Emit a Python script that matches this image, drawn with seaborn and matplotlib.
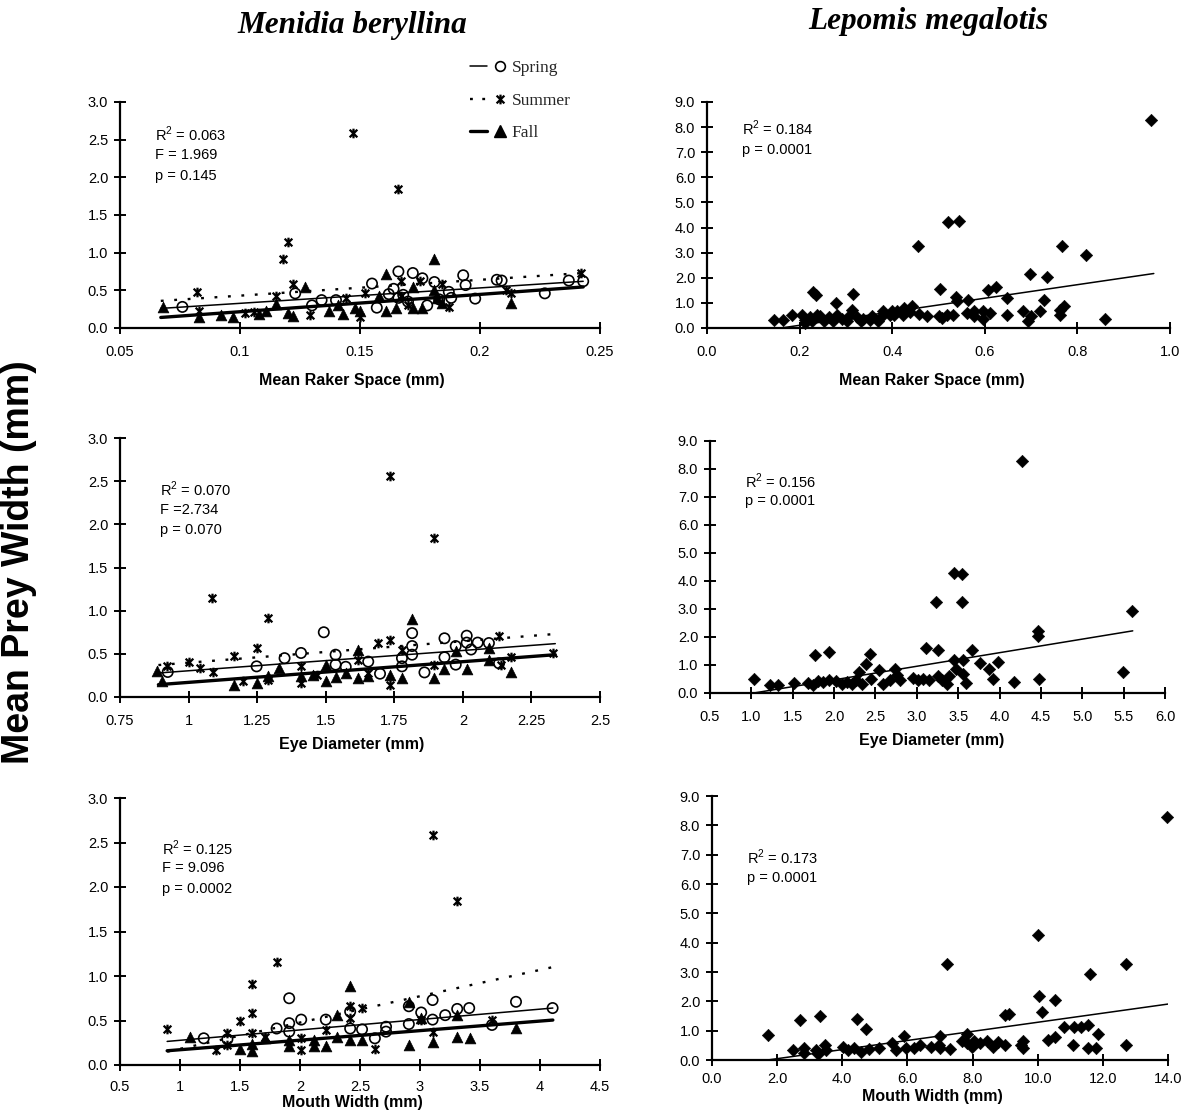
import numpy as np
import matplotlib
matplotlib.use("Agg")
import matplotlib.pyplot as plt
from matplotlib.path import Path
from matplotlib.lines import Line2D
from matplotlib.legend_handler import HandlerTuple
import seaborn as sns

# ---------------- data ----------------
# Menidia beryllina - Mean Raker Space
A_spring_x = [0.076, 0.123, 0.130, 0.134, 0.140, 0.155, 0.157, 0.162, 0.164, 0.166, 0.166, 0.168, 0.170, 0.172,
              0.176, 0.178, 0.181, 0.183, 0.187, 0.188, 0.193, 0.194, 0.198, 0.207, 0.209, 0.227, 0.237, 0.243]
A_spring_y = [0.28, 0.46, 0.30, 0.37, 0.37, 0.59, 0.27, 0.45, 0.52, 0.75, 0.40, 0.44, 0.35, 0.73,
              0.66, 0.30, 0.61, 0.38, 0.48, 0.40, 0.70, 0.57, 0.39, 0.64, 0.63, 0.46, 0.63, 0.62]
A_summer_x = [0.082, 0.083, 0.102, 0.106, 0.115, 0.118, 0.120, 0.122, 0.129, 0.144, 0.147, 0.150, 0.152,
              0.166, 0.167, 0.167, 0.170, 0.175, 0.184, 0.187, 0.211, 0.213, 0.242]
A_summer_y = [0.48, 0.22, 0.20, 0.21, 0.43, 0.92, 1.14, 0.59, 0.17, 0.40, 2.59, 0.15, 0.46,
              1.85, 0.62, 0.42, 0.30, 0.63, 0.58, 0.28, 0.51, 0.46, 0.73]
A_fall_x = [0.068, 0.083, 0.092, 0.097, 0.108, 0.111, 0.115, 0.120, 0.122, 0.127, 0.137, 0.141, 0.143, 0.148,
            0.150, 0.158, 0.161, 0.161, 0.165, 0.172, 0.172, 0.176, 0.181, 0.181, 0.182, 0.184, 0.213]
A_fall_y = [0.28, 0.14, 0.17, 0.15, 0.18, 0.22, 0.32, 0.20, 0.16, 0.55, 0.22, 0.30, 0.19, 0.27,
            0.22, 0.42, 0.72, 0.22, 0.27, 0.55, 0.27, 0.27, 0.92, 0.50, 0.40, 0.33, 0.33]
A_fit_x = [0.067, 0.243]
A_fit_spring = [0.26, 0.62]
A_fit_summer = [0.36, 0.73]
A_fit_fall = [0.14, 0.545]

# Menidia beryllina - Eye Diameter
B_spring_x = [0.924, 1.248, 1.35, 1.41, 1.493, 1.536, 1.536, 1.573, 1.655, 1.698, 1.778, 1.778, 1.815,
              1.815, 1.815, 1.86, 1.933, 1.933, 1.974, 1.974, 2.014, 2.014, 2.03, 2.054, 2.095, 2.132]
B_spring_y = [0.29, 0.355, 0.45, 0.51, 0.75, 0.49, 0.375, 0.35, 0.41, 0.27, 0.45, 0.355, 0.74,
              0.59, 0.49, 0.285, 0.68, 0.46, 0.59, 0.375, 0.71, 0.63, 0.55, 0.63, 0.625, 0.39]
B_summer_x = [0.92, 1.0, 1.043, 1.086, 1.09, 1.164, 1.20, 1.248, 1.29, 1.29, 1.41, 1.41, 1.468,
              1.617, 1.655, 1.69, 1.735, 1.735, 1.735, 1.778, 1.896, 1.896, 2.132, 2.14, 2.175, 2.33]
B_summer_y = [0.36, 0.405, 0.34, 1.15, 0.29, 0.48, 0.18, 0.57, 0.915, 0.20, 0.16, 0.36, 0.26,
              0.43, 0.28, 0.63, 2.56, 0.66, 0.14, 0.55, 1.84, 0.37, 0.71, 0.37, 0.46, 0.51]
B_fall_x = [0.885, 0.903, 1.166, 1.248, 1.29, 1.33, 1.41, 1.455, 1.50, 1.50, 1.536, 1.573, 1.617,
            1.617, 1.655, 1.735, 1.778, 1.815, 1.896, 1.933, 1.974, 2.014, 2.095, 2.095, 2.175]
B_fall_y = [0.30, 0.18, 0.14, 0.16, 0.24, 0.34, 0.24, 0.26, 0.375, 0.18, 0.23, 0.28, 0.55,
            0.22, 0.24, 0.26, 0.22, 0.90, 0.22, 0.32, 0.53, 0.32, 0.43, 0.57, 0.285]
B_fit_x = [0.89, 2.337]
B_fit_spring = [0.278, 0.618]
B_fit_summer = [0.37, 0.73]
B_fit_fall = [0.143, 0.49]

# Menidia beryllina - Mouth Width
C_spring_x = [1.198, 1.395, 1.805, 1.91, 1.91, 1.91, 2.01, 2.215, 2.418, 2.418, 2.517, 2.624, 2.717,
              2.717, 2.907, 2.907, 3.01, 3.105, 3.105, 3.21, 3.31, 3.41, 3.60, 3.80, 4.105]
C_spring_y = [0.30, 0.29, 0.41, 0.75, 0.47, 0.375, 0.51, 0.51, 0.60, 0.41, 0.40, 0.30, 0.43,
              0.375, 0.66, 0.46, 0.59, 0.51, 0.73, 0.56, 0.63, 0.64, 0.45, 0.71, 0.64]
C_summer_x = [0.893, 1.297, 1.395, 1.395, 1.50, 1.60, 1.60, 1.60, 1.706, 1.805, 2.01, 2.01, 2.215,
              2.418, 2.418, 2.517, 2.624, 3.01, 3.105, 3.105, 3.31, 3.60]
C_summer_y = [0.41, 0.17, 0.36, 0.225, 0.50, 0.91, 0.58, 0.36, 0.32, 1.16, 0.30, 0.17, 0.39,
              0.66, 0.525, 0.64, 0.18, 0.51, 2.58, 0.375, 1.84, 0.51]
C_fall_x = [1.085, 1.50, 1.60, 1.60, 1.706, 1.91, 1.91, 2.115, 2.115, 2.215, 2.31, 2.31, 2.418,
            2.418, 2.517, 2.907, 2.907, 3.01, 3.105, 3.31, 3.31, 3.415, 3.80]
C_fall_y = [0.31, 0.18, 0.16, 0.24, 0.30, 0.21, 0.28, 0.21, 0.28, 0.21, 0.56, 0.32, 0.89,
            0.28, 0.28, 0.71, 0.225, 0.525, 0.26, 0.56, 0.32, 0.30, 0.42]
C_fit_x = [0.893, 4.107]
C_fit_spring = [0.265, 0.64]
C_fit_summer = [0.15, 1.10]
C_fit_fall = [0.16, 0.505]

# Lepomis megalotis - Mean Raker Space
D_x = [0.145, 0.165, 0.183, 0.205, 0.212, 0.212, 0.223, 0.227, 0.23, 0.236, 0.237, 0.245, 0.252, 0.263, 0.273,
       0.278, 0.281, 0.291, 0.302, 0.306, 0.313, 0.315, 0.324, 0.332, 0.338, 0.353, 0.356, 0.37, 0.381, 0.381,
       0.396, 0.40, 0.403, 0.41, 0.424, 0.426, 0.439, 0.442, 0.455, 0.457, 0.475, 0.50, 0.504, 0.507, 0.518,
       0.52, 0.532, 0.538, 0.54, 0.545, 0.561, 0.563, 0.576, 0.576, 0.597, 0.597, 0.606, 0.612, 0.624, 0.649,
       0.649, 0.683, 0.694, 0.698, 0.699, 0.719, 0.727, 0.735, 0.763, 0.763, 0.766, 0.771, 0.818, 0.86, 0.959]
D_y = [0.30, 0.30, 0.53, 0.53, 0.33, 0.20, 0.42, 0.26, 1.43, 1.32, 0.53, 0.46, 0.29, 0.42, 0.26,
       1.0, 0.53, 0.37, 0.26, 0.46, 0.73, 1.36, 0.42, 0.26, 0.37, 0.33, 0.46, 0.26, 0.5, 0.66,
       0.53, 0.69, 0.53, 0.69, 0.5, 0.79, 0.64, 0.89, 3.25, 0.57, 0.46, 0.46, 1.56, 0.40, 0.5,
       4.24, 0.53, 1.22, 1.06, 4.26, 0.6, 1.13, 0.69, 0.46, 0.66, 0.37, 1.52, 0.60, 1.63, 1.19,
       0.50, 0.66, 0.29, 2.16, 0.49, 0.69, 1.10, 2.03, 0.70, 0.50, 3.25, 0.86, 2.91, 0.37, 8.30]
D_fit_x = [0.16, 0.965]
D_fit_y = [0.0, 2.17]

# Lepomis megalotis - Eye Diameter
E_x = [1.026, 1.22, 1.32, 1.52, 1.69, 1.74, 1.77, 1.81, 1.87, 1.935, 1.935, 2.02, 2.10, 2.16, 2.22,
       2.26, 2.30, 2.34, 2.38, 2.44, 2.45, 2.54, 2.59, 2.68, 2.74, 2.76, 2.80, 2.95, 3.01, 3.07,
       3.11, 3.15, 3.23, 3.25, 3.25, 3.31, 3.36, 3.39, 3.45, 3.45, 3.47, 3.55, 3.55, 3.56, 3.56,
       3.59, 3.67, 3.76, 3.87, 3.92, 3.98, 4.18, 4.27, 4.47, 4.47, 4.48, 5.49, 5.60]
E_y = [0.51, 0.27, 0.27, 0.37, 0.36, 0.27, 1.35, 0.43, 0.39, 1.47, 0.45, 0.43, 0.31, 0.39, 0.31,
       0.45, 0.75, 0.31, 1.03, 1.38, 0.51, 0.81, 0.31, 0.45, 0.87, 0.63, 0.45, 0.55, 0.45, 0.51,
       1.62, 0.45, 3.26, 1.53, 0.60, 0.45, 0.31, 0.60, 4.27, 1.19, 0.84, 4.24, 3.24, 1.19, 0.69,
       0.36, 1.53, 1.07, 0.84, 0.51, 1.11, 0.39, 8.30, 2.22, 2.03, 0.51, 0.75, 2.93]
E_fit_x = [1.03, 5.61]
E_fit_y = [0.0, 2.22]

# Lepomis megalotis - Mouth Width
F_x = [1.71, 2.49, 2.71, 2.82, 2.82, 3.20, 3.25, 3.32, 3.46, 3.50, 4.01, 4.17, 4.37, 4.44, 4.57,
       4.73, 4.83, 5.13, 5.54, 5.64, 5.89, 5.95, 6.20, 6.40, 6.71, 6.96, 7.01, 7.01, 7.22, 7.32,
       7.67, 7.83, 7.83, 7.98, 8.03, 8.23, 8.43, 8.64, 8.79, 8.99, 8.99, 9.13, 9.50, 9.55, 9.55,
       10.01, 10.03, 10.13, 10.31, 10.52, 10.52, 10.80, 11.08, 11.10, 11.33, 11.53, 11.53, 11.61,
       11.79, 11.84, 12.72, 12.72, 13.97]
F_y = [0.84, 0.35, 1.35, 0.40, 0.23, 0.35, 0.21, 1.50, 0.52, 0.35, 0.46, 0.35, 0.40, 1.39, 0.27,
       1.04, 0.38, 0.40, 0.58, 0.35, 0.81, 0.40, 0.40, 0.50, 0.46, 0.52, 0.81, 0.40, 3.27, 0.38,
       0.66, 0.58, 0.87, 0.46, 0.64, 0.58, 0.64, 0.46, 0.61, 0.52, 1.54, 1.56, 0.52, 0.64, 0.40,
       4.27, 2.17, 1.65, 0.67, 2.04, 0.79, 1.13, 0.52, 1.13, 1.13, 1.19, 0.40, 2.92, 0.40, 0.87,
       3.26, 0.52, 8.29]
F_fit_x = [1.71, 14.02]
F_fit_y = [0.0, 1.91]

# tick labels
A_xticks = ["0.05", "0.1", "0.15", "0.2", "0.25"]
B_xticks = ["0.75", "1", "1.25", "1.5", "1.75", "2", "2.25", "2.5"]
C_xticks = ["0.5", "1", "1.5", "2", "2.5", "3", "3.5", "4", "4.5"]
D_xticks = ["0.0", "0.2", "0.4", "0.6", "0.8", "1.0"]
E_xticks = ["0.5", "1.0", "1.5", "2.0", "2.5", "3.0", "3.5", "4.0", "4.5", "5.0", "5.5", "6.0"]
F_xticks = ["0.0", "2.0", "4.0", "6.0", "8.0", "10.0", "12.0", "14.0"]
left_yticks = ["0.0", "0.5", "1.0", "1.5", "2.0", "2.5", "3.0"]
right_yticks = ["0.0", "1.0", "2.0", "3.0", "4.0", "5.0", "6.0", "7.0", "8.0", "9.0"]

A_stats = ["R$^2$ = 0.063", "F = 1.969", "p = 0.145"]
B_stats = ["R$^2$ = 0.070", "F =2.734", "p = 0.070"]
C_stats = ["R$^2$ = 0.125", "F = 9.096", "p = 0.0002"]
D_stats = ["R$^2$ = 0.184", "p = 0.0001"]
E_stats = ["R$^2$ = 0.156", "p = 0.0001"]
F_stats = ["R$^2$ = 0.173", "p = 0.0001"]

# ---------------- styling ----------------
sns.set_theme(style="ticks")
plt.rcParams["font.family"] = ["Liberation Sans", "DejaVu Sans"]
plt.rcParams["mathtext.fontset"] = "custom"
plt.rcParams["mathtext.rm"] = "Liberation Sans"

W, H = 1189, 1112
fig = plt.figure(figsize=(W / 100, H / 100), dpi=100)
fig.patch.set_facecolor("white")


def rect(l, t, r, b):
    return [l / W, 1 - b / H, (r - l) / W, (b - t) / H]


def fx(px):
    return px / W


def fy(py):
    return 1 - py / H


star = Path([(-1, -1), (1, 1), (-1, 1), (1, -1), (0, -1.25), (0, 1.25)],
            [Path.MOVETO, Path.LINETO, Path.MOVETO, Path.LINETO, Path.MOVETO, Path.LINETO])


def style_axis(ax, xlim, xt, xtl, ylim, yt, ytl, xpad=8):
    ax.set_xlim(*xlim)
    ax.set_ylim(*ylim)
    ax.set_xticks(xt)
    ax.set_xticklabels(xtl)
    ax.set_yticks(yt)
    ax.set_yticklabels(ytl)
    ax.set_xlabel("")
    ax.set_ylabel("")
    for s in ["top", "right"]:
        ax.spines[s].set_visible(False)
    for s in ["left", "bottom"]:
        ax.spines[s].set_linewidth(1.6)
        ax.spines[s].set_color("black")
    ax.tick_params(axis="both", direction="inout", length=9, width=1.4, colors="black",
                   labelsize=10.5, labelcolor="black")
    ax.tick_params(axis="x", pad=xpad)
    ax.tick_params(axis="y", pad=4)
    ax.set_facecolor("white")


def seasonal(ax, sx, sy, ux, uy, fxd, fyd, fitx, fsp, fsu, ffa):
    sns.lineplot(x=fitx, y=fsu, ax=ax, color="black", lw=1.7, linestyle=(0, (1.2, 4.5)), legend=False)
    sns.lineplot(x=fitx, y=fsp, ax=ax, color="black", lw=1.1, legend=False)
    sns.lineplot(x=fitx, y=ffa, ax=ax, color="black", lw=2.4, legend=False)
    sns.scatterplot(x=fxd, y=fyd, ax=ax, marker="^", s=60, color="black", edgecolor="black",
                    linewidth=0.5, zorder=3, clip_on=False)
    sns.scatterplot(x=ux, y=uy, ax=ax, marker=star, s=48, color="black", edgecolor="black",
                    linewidth=1.6, zorder=3, clip_on=False)
    sns.scatterplot(x=sx, y=sy, ax=ax, marker="o", s=55, color="black", facecolor="none",
                    edgecolor="black", linewidth=1.2, zorder=4, clip_on=False)


def single(ax, x, y, fitx, fity):
    sns.lineplot(x=fitx, y=fity, ax=ax, color="black", lw=1.1, legend=False)
    sns.scatterplot(x=x, y=y, ax=ax, marker="D", s=40, color="black", edgecolor="black",
                    linewidth=0.4, zorder=3, clip_on=False)


axA = fig.add_axes(rect(120, 102, 600, 328))
axB = fig.add_axes(rect(120, 438, 600, 697))
axC = fig.add_axes(rect(120, 798, 600, 1065))
axD = fig.add_axes(rect(707, 102, 1170, 328))
axE = fig.add_axes(rect(710, 441, 1165, 693))
axF = fig.add_axes(rect(712, 796, 1168, 1060))

seasonal(axA, A_spring_x, A_spring_y, A_summer_x, A_summer_y, A_fall_x, A_fall_y,
         A_fit_x, A_fit_spring, A_fit_summer, A_fit_fall)
seasonal(axB, B_spring_x, B_spring_y, B_summer_x, B_summer_y, B_fall_x, B_fall_y,
         B_fit_x, B_fit_spring, B_fit_summer, B_fit_fall)
seasonal(axC, C_spring_x, C_spring_y, C_summer_x, C_summer_y, C_fall_x, C_fall_y,
         C_fit_x, C_fit_spring, C_fit_summer, C_fit_fall)
single(axD, D_x, D_y, D_fit_x, D_fit_y)
single(axE, E_x, E_y, E_fit_x, E_fit_y)
single(axF, F_x, F_y, F_fit_x, F_fit_y)

ly = [0, 0.5, 1.0, 1.5, 2.0, 2.5, 3.0]
ry = list(range(10))
style_axis(axA, (0.05, 0.25), [0.05, 0.1, 0.15, 0.2, 0.25], A_xticks, (0, 3.0), ly, left_yticks)
style_axis(axB, (0.75, 2.5), [0.75, 1, 1.25, 1.5, 1.75, 2, 2.25, 2.5], B_xticks, (0, 3.0), ly, left_yticks)
style_axis(axC, (0.5, 4.5), [0.5, 1, 1.5, 2, 2.5, 3, 3.5, 4, 4.5], C_xticks, (0, 3.0), ly, left_yticks,
           xpad=6)
style_axis(axD, (0, 1.0), [0, 0.2, 0.4, 0.6, 0.8, 1.0], D_xticks, (0, 9.0), ry, right_yticks)
style_axis(axE, (0.5, 6.0), [0.5 + 0.5 * i for i in range(12)], E_xticks, (0, 9.0), ry, right_yticks)
style_axis(axF, (0, 14.0), [0, 2, 4, 6, 8, 10, 12, 14], F_xticks, (0, 9.0), ry, right_yticks, xpad=4)

# axis titles
xt_kw = dict(ha="center", va="center", fontsize=11.5, fontweight="bold", color="black")
fig.text(fx(352), fy(380), "Mean Raker Space (mm)", **xt_kw)
fig.text(fx(352), fy(745), "Eye Diameter (mm)", **xt_kw)
fig.text(fx(352), fy(1103), "Mouth Width (mm)", **xt_kw)
fig.text(fx(932), fy(381), "Mean Raker Space (mm)", **xt_kw)
fig.text(fx(932), fy(740), "Eye Diameter (mm)", **xt_kw)
fig.text(fx(932), fy(1097), "Mouth Width (mm)", **xt_kw)


def stats(lines, x, y0, dy):
    for i, s in enumerate(lines):
        fig.text(fx(x), fy(y0 + i * dy), s, ha="left", va="center", fontsize=10.5, color="black")


stats(A_stats, 155, 134, 21)
stats(B_stats, 160, 489, 20.5)
stats(C_stats, 162, 848, 20.5)
stats(D_stats, 742, 128, 22)
stats(E_stats, 745, 481, 20)
stats(F_stats, 747, 857, 21)

# species titles
title_kw = dict(ha="center", va="center", fontsize=22.5, fontweight="bold", fontstyle="italic",
                family=["Liberation Serif", "DejaVu Serif"], color="black")
fig.text(fx(352), fy(25), "Menidia beryllina", **title_kw)
fig.text(fx(928), fy(22), "Lepomis megalotis", **title_kw)

# shared y label
fig.text(fx(19), fy(562), "Mean Prey Width (mm)", rotation=90, ha="center", va="center",
         fontsize=27, fontweight="bold", color="black")

# legend
h_spring = (Line2D([], [], color="black", lw=1.1), Line2D([], [], ls="none", marker="o", mfc="none",
                                                           mec="black", ms=7, mew=1.2))
h_summer = (Line2D([], [], color="black", lw=1.7, ls=(0, (1.2, 4))),
            Line2D([], [], ls="none", marker=star, color="black", ms=7, mew=1.6))
h_fall = (Line2D([], [], color="black", lw=2.4), Line2D([], [], ls="none", marker="^", color="black", ms=8))
fig.legend([h_spring, h_summer, h_fall], ["Spring", "Summer", "Fall"],
           handler_map={tuple: HandlerTuple(ndivide=None, pad=0.25)},
           loc="upper left", bbox_to_anchor=(fx(470), fy(60)), frameon=False,
           prop=dict(family=["Liberation Serif", "DejaVu Serif"], size=12.5),
           handlelength=2.2, handletextpad=0.2, labelspacing=0.95, borderaxespad=0, borderpad=0)

fig.savefig("out.png", dpi=100, facecolor="white")
